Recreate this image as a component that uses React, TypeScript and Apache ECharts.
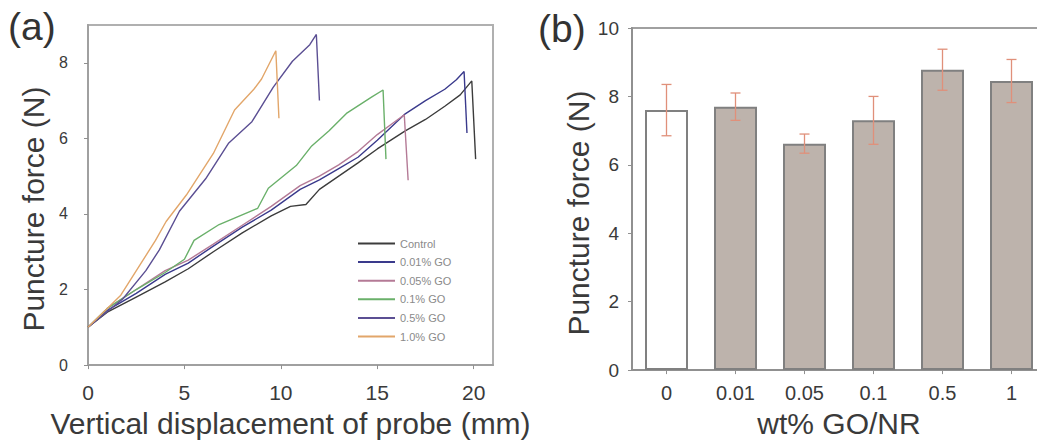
import React, { useEffect, useRef } from "react";
import * as echarts from "echarts";

const FONT = "Liberation Sans, Arial, Helvetica, sans-serif";

// Panel (a): puncture force vs displacement
const curveNames = ["Control", "0.01% GO", "0.05% GO", "0.1% GO", "0.5% GO", "1.0% GO"];
const curveColors = ["#3c3c3c", "#3a3a8c", "#b47a96", "#6ab06a", "#5b4f93", "#e2a66a"];

const controlCurve = [
  [0, 1.0], [1, 1.4], [2.5, 1.8], [4, 2.2], [5.2, 2.55], [6.5, 3.0], [8, 3.5], [9.5, 3.95],
  [10.5, 4.2], [11.3, 4.25], [12, 4.65], [13, 5.0], [14, 5.35], [15, 5.72], [16.45, 6.2],
  [17.5, 6.5], [18.5, 6.85], [19.3, 7.15], [19.9, 7.52], [20.1, 5.45],
];
const go001Curve = [
  [0, 1.0], [1, 1.45], [2.5, 1.9], [4, 2.4], [5.2, 2.7], [6.5, 3.15], [8, 3.65], [9.5, 4.1],
  [11, 4.65], [12, 4.9], [13, 5.2], [14, 5.5], [15, 5.95], [16.45, 6.65], [17.5, 7.0],
  [18.5, 7.3], [19.1, 7.55], [19.5, 7.77], [19.65, 6.14],
];
const go005Curve = [
  [0, 1.0], [1, 1.5], [2.5, 2.0], [4, 2.5], [5.2, 2.78], [6.5, 3.2], [8, 3.7], [9.5, 4.2],
  [11, 4.75], [12, 5.0], [13, 5.3], [14, 5.65], [15, 6.1], [15.8, 6.4], [16.4, 6.62], [16.6, 4.89],
];
const go01Curve = [
  [0, 1.0], [1, 1.5], [2.5, 2.0], [4, 2.45], [5.0, 2.8], [5.5, 3.3], [6.8, 3.72], [8.8, 4.15],
  [9.35, 4.68], [10.8, 5.28], [11.6, 5.8], [12.5, 6.2], [13.4, 6.66], [14.7, 7.09], [15.3, 7.28],
  [15.45, 5.45],
];
const go05Curve = [
  [0, 1.0], [1.8, 1.75], [3, 2.5], [3.7, 3.05], [4.74, 4.07], [6.1, 4.93], [7.3, 5.88],
  [8.5, 6.44], [9.6, 7.35], [10.6, 8.04], [11.5, 8.48], [11.84, 8.75], [12.0, 7.0],
];
const go10Curve = [
  [0, 1.0], [1.7, 1.85], [3.5, 3.3], [4.05, 3.8], [5.1, 4.5], [6.5, 5.6], [7.6, 6.75],
  [8.6, 7.3], [9.0, 7.57], [9.74, 8.32], [9.9, 6.53],
];
const curves = [controlCurve, go001Curve, go005Curve, go01Curve, go05Curve, go10Curve];

const xTicksA = [0, 5, 10, 15, 20];
const yTicksA = [0, 2, 4, 6, 8];

// Panel (b): bar chart with error bars
const goCategories = ["0", "0.01", "0.05", "0.1", "0.5", "1"];
const punctureMeans = [7.6, 7.7, 6.62, 7.3, 8.78, 8.45];
const punctureErrors = [0.75, 0.4, 0.28, 0.7, 0.6, 0.63];

export default function App() {
  const ref = useRef<HTMLDivElement>(null);

  useEffect(() => {
    if (!ref.current) return;
    const chart = echarts.init(ref.current, undefined, { renderer: "svg" });

    const lineSeries = curves.map((data, i) => ({
      name: curveNames[i],
      type: "line",
      xAxisIndex: 0,
      yAxisIndex: 0,
      data,
      symbol: "none",
      showSymbol: false,
      lineStyle: { color: curveColors[i], width: 1.4 },
      itemStyle: { color: curveColors[i] },
      z: 3,
    }));

    const option: any = {
      animation: false,
      backgroundColor: "#ffffff",
      textStyle: { fontFamily: FONT },
      legend: {
        data: curveNames.map((n, i) => ({ name: n, icon: "rect", itemStyle: { color: curveColors[i] } })),
        orient: "vertical",
        left: 353,
        top: 233,
        itemWidth: 37,
        itemHeight: 2,
        itemGap: 7.6,
        textStyle: { color: "#8a8a8a", fontSize: 11, fontFamily: FONT },
        selectedMode: false,
      },
      grid: [
        { left: 88, top: 25, width: 405, height: 345, show: true, borderColor: "#b0b0b0", borderWidth: 2, backgroundColor: "transparent" },
        { left: 632, top: 28, width: 414, height: 348, show: true, borderColor: "#a0a0a0", borderWidth: 2, backgroundColor: "transparent" },
      ],
      xAxis: [
        {
          type: "value",
          gridIndex: 0,
          min: 0,
          max: 21,
          name: "Vertical displacement of probe (mm)",
          nameLocation: "middle",
          nameGap: 33,
          nameTextStyle: { fontSize: 30, color: "#3a3a3a", fontFamily: FONT },
          axisLine: { show: true, lineStyle: { color: "#a0a0a0", width: 2 } },
          axisTick: { show: true, inside: false, length: 4, lineStyle: { color: "#909090" }, customValues: xTicksA },
          axisLabel: { fontSize: 21, color: "#3a3a3a", margin: 17, customValues: xTicksA },
          splitLine: { show: false },
        },
        {
          type: "category",
          gridIndex: 1,
          data: goCategories,
          name: "wt% GO/NR",
          nameLocation: "middle",
          nameGap: 32,
          nameTextStyle: { fontSize: 30, color: "#3a3a3a", fontFamily: FONT },
          axisLine: { show: true, lineStyle: { color: "#909090", width: 2 } },
          axisTick: { show: true, alignWithLabel: true, length: 4, lineStyle: { color: "#909090" } },
          axisLabel: { fontSize: 20, color: "#3a3a3a", margin: 13 },
          splitLine: { show: false },
        },
      ],
      yAxis: [
        {
          type: "value",
          gridIndex: 0,
          min: 0,
          max: 9,
          name: "Puncture force (N)",
          nameLocation: "middle",
          nameGap: 40,
          nameTextStyle: { fontSize: 30, color: "#3a3a3a", fontFamily: FONT, padding: [0, 28, 0, 0] },
          axisLine: { show: true, lineStyle: { color: "#a0a0a0", width: 2 } },
          axisTick: { show: true, length: 4, lineStyle: { color: "#909090" }, customValues: yTicksA },
          axisLabel: { fontSize: 16, color: "#3a3a3a", margin: 20, customValues: yTicksA },
          splitLine: { show: false },
        },
        {
          type: "value",
          gridIndex: 1,
          min: 0,
          max: 10,
          interval: 2,
          name: "Puncture force (N)",
          nameLocation: "middle",
          nameGap: 36,
          nameTextStyle: { fontSize: 30, color: "#3a3a3a", fontFamily: FONT, padding: [0, 28, 0, 0] },
          axisLine: { show: true, lineStyle: { color: "#909090", width: 2 } },
          axisTick: { show: true, length: 4, lineStyle: { color: "#909090" } },
          axisLabel: { fontSize: 19, color: "#3a3a3a", margin: 13 },
          splitLine: { show: false },
        },
      ],
      series: [
        ...lineSeries,
        {
          name: "bars",
          type: "bar",
          xAxisIndex: 1,
          yAxisIndex: 1,
          barWidth: 43,
          data: punctureMeans.map((v, i) => ({
            value: v,
            itemStyle: {
              color: i === 0 ? "#ffffff" : "#bdb3ac",
              borderColor: "#808080",
              borderWidth: 2,
            },
          })),
          z: 2,
        },
        {
          name: "errors",
          type: "custom",
          xAxisIndex: 1,
          yAxisIndex: 1,
          data: punctureMeans.map((v, i) => [i, v, punctureErrors[i]]),
          renderItem: (params: any, api: any) => {
            const x = api.value(0);
            const y = api.value(1);
            const e = api.value(2);
            const top = api.coord([x, y + e]);
            const bot = api.coord([x, y - e]);
            const cap = 5;
            const style = { stroke: "#e0907a", lineWidth: 1.3 };
            return {
              type: "group",
              children: [
                { type: "line", shape: { x1: top[0], y1: top[1], x2: bot[0], y2: bot[1] }, style },
                { type: "line", shape: { x1: top[0] - cap, y1: top[1], x2: top[0] + cap, y2: top[1] }, style },
                { type: "line", shape: { x1: bot[0] - cap, y1: bot[1], x2: bot[0] + cap, y2: bot[1] }, style },
              ],
            };
          },
          z: 5,
        },
      ],
      graphic: [
        { type: "text", left: 8, top: 7, style: { text: "(a)", fontSize: 39, fill: "#333333", fontFamily: FONT } },
        { type: "text", left: 538, top: 9, style: { text: "(b)", fontSize: 39, fill: "#333333", fontFamily: FONT } },
      ],
    };

    chart.setOption(option);
    return () => chart.dispose();
  }, []);

  return (
    <div style={{ position: "fixed", left: 0, top: 0, width: 1037, height: 443, overflow: "hidden" }}>
      <div ref={ref} style={{ width: 1060, height: 443 }} />
    </div>
  );
}
